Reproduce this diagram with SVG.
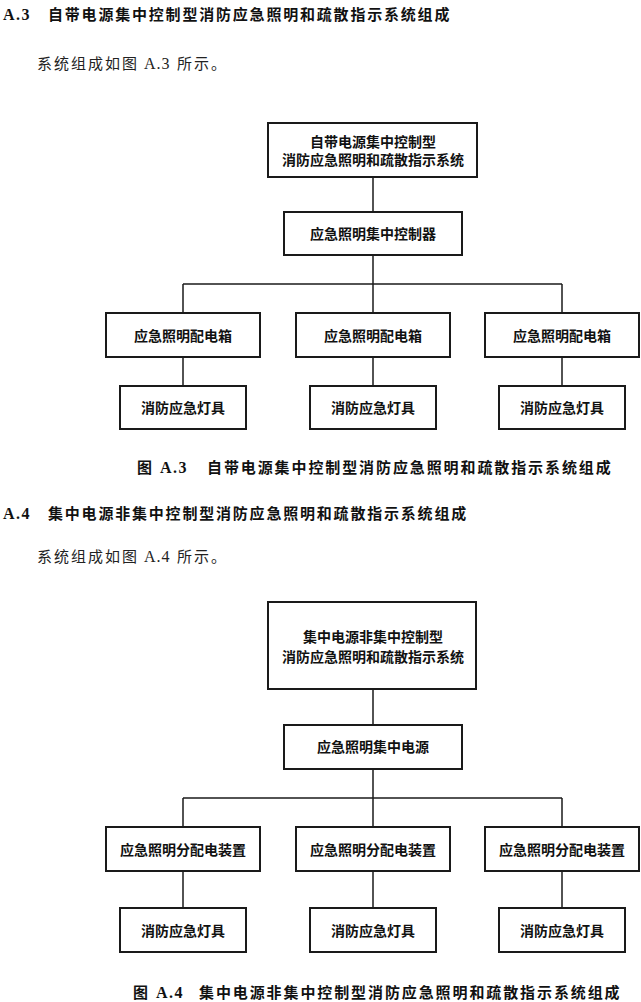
<svg xmlns="http://www.w3.org/2000/svg" width="641" height="1002" viewBox="0 0 641 1002">
<style>
.bg{fill:#fff}
.box{fill:#fff;stroke:#1a1a1a;stroke-width:2}
.ln{stroke:#1a1a1a;stroke-width:1.5;fill:none}
.bt{font-family:"Noto Sans CJK SC",sans-serif;font-size:14px;font-weight:bold;fill:#111;text-anchor:middle}
.hd{font-family:"Noto Sans CJK SC",sans-serif;font-size:15px;font-weight:bold;fill:#111;letter-spacing:1.8px}
.hl{font-family:"Liberation Serif",serif;font-size:16px;font-weight:bold;fill:#111;letter-spacing:1.5px}
.pa{font-family:"Noto Sans CJK SC",sans-serif;font-size:15px;fill:#222;letter-spacing:2px}
.pl{font-family:"Liberation Serif",serif;font-size:16px;fill:#222;letter-spacing:1px}
.cp{font-family:"Noto Sans CJK SC",sans-serif;font-size:15px;font-weight:bold;fill:#111;letter-spacing:1.9px}
</style>
<rect class="bg" x="0" y="0" width="641" height="1002"/>

<g id="text-a3">
<text class="hl" x="3" y="20">A.3</text>
<text class="hd" x="48" y="20">自带电源集中控制型消防应急照明和疏散指示系统组成</text>
<text class="pa" x="37" y="69">系统组成如图</text>
<text class="pl" x="144" y="69">A.3</text>
<text class="pa" x="177" y="69">所示。</text>
<text class="cp" x="137" y="473">图</text>
<text class="hl" x="160" y="473">A.3</text>
<text class="cp" x="207" y="473">自带电源集中控制型消防应急照明和疏散指示系统组成</text>
</g>

<g id="connectors-a3">
<line class="ln" x1="373" y1="177" x2="373" y2="212"/>
<line class="ln" x1="373" y1="255" x2="373" y2="313"/>
<line class="ln" x1="183" y1="284" x2="562" y2="284"/>
<line class="ln" x1="183" y1="284" x2="183" y2="313"/>
<line class="ln" x1="562" y1="284" x2="562" y2="313"/>
<line class="ln" x1="183" y1="357" x2="183" y2="386"/>
<line class="ln" x1="373" y1="357" x2="373" y2="386"/>
<line class="ln" x1="562" y1="357" x2="562" y2="386"/>
</g>

<g id="a3-system">
<rect class="box" x="268" y="123" width="209" height="54"/>
<text class="bt" x="373" y="147">自带电源集中控制型</text>
<text class="bt" x="373" y="165">消防应急照明和疏散指示系统</text>
</g>
<g id="a3-controller">
<rect class="box" x="284" y="212" width="178" height="43"/>
<text class="bt" x="373" y="239">应急照明集中控制器</text>
</g>
<g id="a3-box1"><rect class="box" x="106" y="313" width="154" height="44"/><text class="bt" x="183" y="341">应急照明配电箱</text></g>
<g id="a3-box2"><rect class="box" x="296" y="313" width="154" height="44"/><text class="bt" x="373" y="341">应急照明配电箱</text></g>
<g id="a3-box3"><rect class="box" x="485" y="313" width="154" height="44"/><text class="bt" x="562" y="341">应急照明配电箱</text></g>
<g id="a3-lamp1"><rect class="box" x="120" y="386" width="126" height="43"/><text class="bt" x="183" y="413">消防应急灯具</text></g>
<g id="a3-lamp2"><rect class="box" x="310" y="386" width="126" height="43"/><text class="bt" x="373" y="413">消防应急灯具</text></g>
<g id="a3-lamp3"><rect class="box" x="499" y="386" width="126" height="43"/><text class="bt" x="562" y="413">消防应急灯具</text></g>

<g id="text-a4">
<text class="hl" x="3" y="519">A.4</text>
<text class="hd" x="48" y="519">集中电源非集中控制型消防应急照明和疏散指示系统组成</text>
<text class="pa" x="37" y="562">系统组成如图</text>
<text class="pl" x="144" y="562">A.4</text>
<text class="pa" x="177" y="562">所示。</text>
<text class="cp" x="133" y="998">图</text>
<text class="hl" x="156" y="998">A.4</text>
<text class="cp" x="199" y="998">集中电源非集中控制型消防应急照明和疏散指示系统组成</text>
</g>

<g id="connectors-a4">
<line class="ln" x1="373" y1="689" x2="373" y2="725"/>
<line class="ln" x1="373" y1="769" x2="373" y2="827"/>
<line class="ln" x1="183" y1="798" x2="562" y2="798"/>
<line class="ln" x1="183" y1="798" x2="183" y2="827"/>
<line class="ln" x1="562" y1="798" x2="562" y2="827"/>
<line class="ln" x1="183" y1="871" x2="183" y2="908"/>
<line class="ln" x1="373" y1="871" x2="373" y2="908"/>
<line class="ln" x1="562" y1="871" x2="562" y2="908"/>
</g>

<g id="a4-system">
<rect class="box" x="268" y="602" width="208" height="87"/>
<text class="bt" x="373" y="642">集中电源非集中控制型</text>
<text class="bt" x="373" y="662">消防应急照明和疏散指示系统</text>
</g>
<g id="a4-power">
<rect class="box" x="284" y="725" width="178" height="44"/>
<text class="bt" x="373" y="752">应急照明集中电源</text>
</g>
<g id="a4-box1"><rect class="box" x="106" y="827" width="154" height="44"/><text class="bt" x="183" y="855">应急照明分配电装置</text></g>
<g id="a4-box2"><rect class="box" x="296" y="827" width="154" height="44"/><text class="bt" x="373" y="855">应急照明分配电装置</text></g>
<g id="a4-box3"><rect class="box" x="485" y="827" width="154" height="44"/><text class="bt" x="562" y="855">应急照明分配电装置</text></g>
<g id="a4-lamp1"><rect class="box" x="120" y="908" width="126" height="44"/><text class="bt" x="183" y="936">消防应急灯具</text></g>
<g id="a4-lamp2"><rect class="box" x="310" y="908" width="126" height="44"/><text class="bt" x="373" y="936">消防应急灯具</text></g>
<g id="a4-lamp3"><rect class="box" x="499" y="908" width="126" height="44"/><text class="bt" x="562" y="936">消防应急灯具</text></g>
</svg>
